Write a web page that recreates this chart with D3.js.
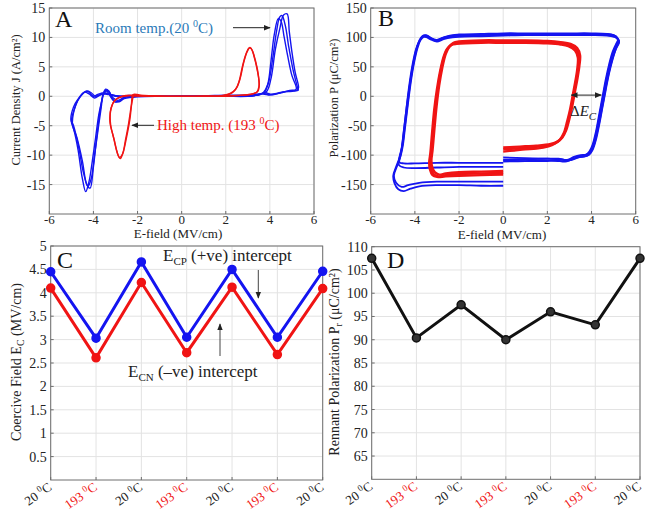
<!DOCTYPE html>
<html>
<head>
<meta charset="UTF-8">
<script src="https://d3js.org/d3.v7.min.js"></script>
<style>
  html, body { margin:0; padding:0; background:#fff; }
  svg text { font-family: "Liberation Serif", "DejaVu Serif", serif; }
</style>
</head>
<body>
<svg id="fig" width="665" height="513"></svg>
<script>
// ---- panel A : J-E loops (E MV/cm, J A/cm2) ----
var blueJ1 = [[0,0],[1,0.1],[2,0.1],[3,0.1],[3.5,0.3],[3.75,0.7],[3.95,2.5],[4.15,7],[4.3,11],[4.45,13.5],[4.55,13.7],[4.7,12],[4.85,8.5],[5.05,4.5],[5.25,1.5],[5.28,1.0],[5.0,0.9],[4.6,0.7],[4.3,0.4],[4.0,0.2],[3.7,0.5],[3.4,0.2],[3,0],[2,0],[1,0],[0,0],[-1,0],[-2,0],[-2.6,-0.2],[-2.9,-0.7],[-3.1,-0.3],[-3.35,1.0],[-3.5,0.8],[-3.6,-0.5],[-3.75,-3],[-3.9,-7],[-4.05,-11],[-4.2,-14.5],[-4.35,-16.2],[-4.5,-14],[-4.7,-9],[-4.9,-5.5],[-5.0,-4.3],[-4.85,-2],[-4.65,-0.3],[-4.4,0.7],[-4.2,0.4],[-3.95,-0.3],[-3.7,0.2],[-3.4,0.5],[-3.0,0.1],[-2,0],[-1,0],[0,0]];
var blueJ2 = [[0,0.1],[1,0.1],[2,0.2],[3,0.2],[3.5,0.4],[3.85,0.8],[4.05,3],[4.25,8],[4.45,11.5],[4.62,13.8],[4.78,14.0],[4.88,11],[5.0,7.5],[5.15,4],[5.3,1.5],[5.25,1.1],[4.9,1.0],[4.5,0.6],[4.1,0.3],[3.8,0.6],[3.5,0.3],[3,0.05],[2,0],[1,0.05],[0,0],[-1,0.05],[-2,0],[-2.5,0.1],[-2.8,-0.9],[-3.1,-0.6],[-3.3,0.9],[-3.45,1.2],[-3.55,0.5],[-3.7,-2.5],[-3.85,-7],[-4.0,-12],[-4.15,-15.6],[-4.3,-15],[-4.5,-11],[-4.75,-7],[-4.95,-4.8],[-4.8,-1.5],[-4.6,-0.1],[-4.3,0.9],[-4.1,0.6],[-3.9,0],[-3.6,0.4],[-3.3,0.3],[-2.8,0],[-2,0],[-1,0],[0,0.1]];
var blueJ3 = [[0,0],[1,0],[2,0.1],[3,0.1],[3.5,0.2],[3.7,0.6],[3.9,2],[4.05,6],[4.2,10.5],[4.38,13.2],[4.5,12.8],[4.65,10],[4.8,7],[5.0,3.5],[5.2,1.3],[5.1,0.9],[4.7,0.8],[4.3,0.5],[3.9,0.3],[3.6,0.4],[3.3,0.1],[3,0],[2,0],[1,0],[0,0],[-1,0],[-2,-0.1],[-2.6,-0.4],[-3.0,-1.0],[-3.2,-0.2],[-3.4,0.9],[-3.55,0.3],[-3.65,-2],[-3.8,-6],[-3.95,-10],[-4.1,-14],[-4.25,-15.3],[-4.45,-13],[-4.65,-9],[-4.9,-5],[-5.02,-4.0],[-4.9,-1.8],[-4.7,-0.5],[-4.45,0.6],[-4.25,0.8],[-4.0,0],[-3.8,0.3],[-3.5,0.6],[-3.0,0],[-2,0],[-1,0],[0,0]];
var redJ1 = [[0,0],[1,0.05],[1.8,0.1],[2.2,0.5],[2.45,1.2],[2.6,2.5],[2.75,5],[2.9,7],[3.05,8.2],[3.15,8.1],[3.3,6.5],[3.45,4],[3.52,2],[3.45,0.8],[3.2,0.4],[2.8,0.2],[2,0.05],[1,0],[0,0],[-1,0],[-1.8,0.1],[-2.15,0.2],[-2.25,-1],[-2.35,-4],[-2.5,-7],[-2.65,-9.5],[-2.78,-10.6],[-2.9,-9.8],[-3.05,-7.5],[-3.22,-4.8],[-3.22,-2.5],[-3.05,-0.8],[-2.75,-0.1],[-2.4,0.1],[-2,0.05],[-1,0],[0,0]];
var redJ2 = [[0,0],[1,0],[1.9,0.1],[2.3,0.6],[2.5,1.5],[2.65,3],[2.8,5.5],[2.95,7.4],[3.1,8.3],[3.2,7.8],[3.35,6],[3.48,3.5],[3.5,1.6],[3.4,0.7],[3.1,0.3],[2.7,0.2],[2,0],[1,0],[0,0],[-1,0.05],[-1.9,0.2],[-2.2,0.3],[-2.28,-1.5],[-2.4,-4.5],[-2.55,-7.5],[-2.68,-9.8],[-2.82,-10.4],[-2.95,-9.2],[-3.1,-6.8],[-3.25,-4.4],[-3.2,-2],[-3.0,-0.6],[-2.7,0],[-2.3,0.2],[-2,0.1],[-1,0],[0,0]];

// ---- panel B : P-E loops (E MV/cm, P uC/cm2) ----
var blueP1 = [[0,-152],[-1,-152],[-2,-151],[-3,-151],[-3.8,-153],[-4.2,-157],[-4.5,-161],[-4.75,-158],[-4.92,-148],[-4.98,-135],[-4.85,-120],[-4.7,-105],[-4.6,-90],[-4.5,-60],[-4.38,-20],[-4.25,20],[-4.1,55],[-3.95,80],[-3.82,92],[-3.65,102],[-3.5,104],[-3.3,100],[-3.05,95],[-2.8,98],[-2.4,102],[-2,103],[-1,104],[0,105],[1,105],[2,105],[3,105],[4,106],[4.6,106],[5.0,104],[5.2,97],[5.1,88],[4.95,75],[4.8,55],[4.65,30],[4.5,0],[4.35,-30],[4.2,-60],[4.05,-82],[3.9,-94],[3.75,-99],[3.5,-100],[3.2,-103],[2.9,-108],[2.5,-106],[2,-106],[1,-107],[0,-108]];
var blueP2 = [[0,-145],[-1,-145],[-2,-145],[-3,-145],[-3.8,-147],[-4.3,-151],[-4.6,-154],[-4.85,-147],[-4.95,-135],[-4.8,-118],[-4.65,-102],[-4.55,-85],[-4.45,-55],[-4.32,-15],[-4.18,25],[-4.03,58],[-3.88,82],[-3.75,95],[-3.6,101],[-3.45,100],[-3.25,96],[-3.0,93],[-2.7,97],[-2.3,100],[-2,101],[-1,102],[0,103],[1,104],[2,104],[3,104],[4,104],[4.7,103],[5.1,100],[5.25,94],[5.15,85],[5.0,70],[4.85,50],[4.7,25],[4.55,-5],[4.4,-35],[4.25,-62],[4.1,-84],[3.95,-96],[3.8,-101],[3.5,-103],[3.1,-107],[2.8,-111],[2.4,-109],[2,-110],[1,-110],[0,-111]];
var blueP3 = [[0,-113],[-1,-113],[-2,-113],[-3,-113],[-4,-114],[-4.5,-114],[-4.7,-112],[-4.65,-100],[-4.55,-80],[-4.45,-50],[-4.32,-10],[-4.2,25],[-4.05,58],[-3.9,83],[-3.78,96],[-3.62,103],[-3.45,103],[-3.25,98],[-3.0,96],[-2.7,100],[-2.3,104],[-2,105],[-1,106],[0,107],[1,107],[2,107],[3,107],[4,107],[4.7,106],[5.1,102],[5.2,94],[5.05,82],[4.9,65],[4.75,42],[4.6,15],[4.45,-15],[4.3,-45],[4.15,-72],[4.0,-90],[3.85,-98],[3.6,-101],[3.3,-104],[3.0,-109],[2.6,-107],[2,-106],[1,-105],[0,-104]];
var blueP4 = [[0,-120],[-1,-120],[-2,-120],[-3,-121],[-4,-122],[-4.5,-121],[-4.72,-117],[-4.7,-104],[-4.6,-88],[-4.5,-58],[-4.37,-18],[-4.23,20],[-4.08,55],[-3.93,80],[-3.8,93],[-3.65,101],[-3.5,102],[-3.3,99],[-3.05,94],[-2.75,99],[-2.35,102],[-2,103],[-1,104],[0,104],[1,105],[2,105],[3,105],[4,105],[4.8,104],[5.15,99],[5.25,92],[5.1,80],[4.95,62],[4.8,40],[4.65,12],[4.5,-18],[4.35,-48],[4.2,-74],[4.05,-91],[3.9,-99],[3.7,-102],[3.4,-104],[3.1,-108],[2.7,-110],[2,-109],[1,-108],[0,-109]];
var redP1 = [[0,-130],[-1,-131],[-2,-132],[-2.6,-134],[-2.95,-136],[-3.15,-132],[-3.28,-122],[-3.3,-110],[-3.26,-95],[-3.18,-60],[-3.08,-20],[-2.95,15],[-2.82,45],[-2.65,70],[-2.5,82],[-2.3,89],[-2.0,91],[-1,93],[0,93],[1,93],[2,92],[2.6,90],[3.0,87],[3.3,80],[3.42,68],[3.4,50],[3.32,30],[3.2,5],[3.08,-20],[2.95,-40],[2.8,-60],[2.62,-72],[2.4,-79],[2.1,-83],[1.5,-86],[1,-87],[0.5,-89],[0,-90]];
var redP2 = [[0,-127],[-1,-128],[-2,-129],[-2.6,-131],[-2.9,-133],[-3.1,-129],[-3.22,-120],[-3.25,-108],[-3.2,-92],[-3.12,-58],[-3.02,-18],[-2.9,18],[-2.76,48],[-2.6,72],[-2.44,84],[-2.25,91],[-2.0,93],[-1,95],[0,95],[1,95],[2,94],[2.6,92],[3.05,89],[3.35,82],[3.48,70],[3.45,52],[3.37,32],[3.25,8],[3.12,-18],[3.0,-38],[2.85,-58],[2.68,-70],[2.45,-77],[2.15,-81],[1.5,-84],[1,-85],[0.5,-86],[0,-87]];
var redP3 = [[0,-133],[-1,-134],[-2,-135],[-2.6,-136],[-3.0,-137],[-3.2,-134],[-3.32,-124],[-3.35,-112],[-3.3,-97],[-3.22,-62],[-3.12,-22],[-3.0,12],[-2.86,42],[-2.7,67],[-2.55,80],[-2.35,87],[-2.1,89],[-1,91],[0,91],[1,91],[2,90],[2.6,88],[2.95,85],[3.25,78],[3.38,66],[3.36,48],[3.28,28],[3.15,2],[3.03,-22],[2.9,-42],[2.75,-62],[2.56,-74],[2.35,-80],[2.05,-85],[1.5,-89],[1,-90],[0.5,-92],[0,-94]];

// ---- panels C and D ----
var cycles = ["20", "193", "20", "193", "20", "193", "20"];
var ecp = [4.45, 3.03, 4.66, 3.05, 4.50, 3.05, 4.46];
var ecn = [4.10, 2.61, 4.22, 2.72, 4.12, 2.68, 4.09];
var pr  = [107.5, 90.4, 97.5, 90.0, 96.0, 93.2, 107.5];

var eTicks = [-6, -4, -2, 0, 2, 4, 6];
var jTicks = [-15, -10, -5, 0, 5, 10, 15];
var pTicks = [-150, -100, -50, 0, 50, 100, 150];
var ecTicks = [0.5, 1, 1.5, 2, 2.5, 3, 3.5, 4, 4.5, 5];
var prTicks = [65, 70, 75, 80, 85, 90, 95, 100, 105, 110];

var BLUE = "#1414f0", RED = "#f01414";
var svg = d3.select("#fig");

svg.append("defs").append("marker")
  .attr("id", "ah").attr("viewBox", "0 0 10 10").attr("refX", 9).attr("refY", 5)
  .attr("markerWidth", 7).attr("markerHeight", 7).attr("orient", "auto-start-reverse")
  .append("path").attr("d", "M0,1 L10,5 L0,9 z").attr("fill", "#222");

// draws grid, frame, inward ticks and numeric tick labels
function frame(x, y, xt, yt, xLabels) {
  var g = svg.append("g");
  var x0 = x.range()[0], x1 = x.range()[x.range().length - 1];
  var y0 = y.range()[0], y1 = y.range()[1];
  var xs = xt.map(function(d) { return x(d); });
  g.selectAll(".gx").data(xs).enter().append("line")
    .attr("x1", function(d) { return d; }).attr("x2", function(d) { return d; })
    .attr("y1", y0).attr("y2", y1).attr("stroke", "#e3e3e3");
  g.selectAll(".gy").data(yt).enter().append("line")
    .attr("x1", x0).attr("x2", x1)
    .attr("y1", function(d) { return y(d); }).attr("y2", function(d) { return y(d); })
    .attr("stroke", "#e3e3e3");
  g.append("rect").attr("x", x0).attr("y", y1).attr("width", x1 - x0).attr("height", y0 - y1)
    .attr("fill", "none").attr("stroke", "#6e6e6e").attr("stroke-width", 1);
  g.selectAll(".tx").data(xs).enter().append("line")
    .attr("x1", function(d) { return d; }).attr("x2", function(d) { return d; })
    .attr("y1", y0).attr("y2", y0 - 3).attr("stroke", "#6e6e6e");
  g.selectAll(".ty").data(yt).enter().append("line")
    .attr("x1", x0).attr("x2", x0 + 3)
    .attr("y1", function(d) { return y(d); }).attr("y2", function(d) { return y(d); })
    .attr("stroke", "#6e6e6e");
  g.selectAll(".ly").data(yt).enter().append("text")
    .attr("x", x0 - 4).attr("y", function(d) { return y(d) + 5; })
    .attr("text-anchor", "end").attr("font-size", 14).attr("fill", "#222")
    .text(function(d) { return d; });
  if (xLabels) {
    g.selectAll(".lx").data(xt).enter().append("text")
      .attr("x", function(d) { return x(d); }).attr("y", y0 + 10)
      .attr("text-anchor", "middle").attr("font-size", 13).attr("fill", "#222")
      .text(function(d) { return d; });
  }
  return g;
}

function ylabel(x, y, fs, build) {
  var t = svg.append("text").attr("transform", "translate(" + x + "," + y + ") rotate(-90)")
    .attr("text-anchor", "middle").attr("font-size", fs).attr("fill", "#222");
  build(t);
}

function letter(x, y, s) {
  svg.append("text").attr("x", x).attr("y", y).attr("font-size", 24).attr("fill", "#111").text(s);
}

// ===== Panel A =====
var xA = d3.scaleLinear().domain([-6, 6]).range([49.3, 314]);
var yA = d3.scaleLinear().domain([-20, 15]).range([214, 8]);
frame(xA, yA, eTicks, jTicks, true);
var lineA = d3.line().x(function(d) { return xA(d[0]); }).y(function(d) { return yA(d[1]); }).curve(d3.curveCatmullRom);
[blueJ1, blueJ2, blueJ3].forEach(function(s) {
  svg.append("path").datum(s).attr("d", lineA).attr("fill", "none").attr("stroke", BLUE).attr("stroke-width", 1.4);
});
[redJ1, redJ2].forEach(function(s) {
  svg.append("path").datum(s).attr("d", lineA).attr("fill", "none").attr("stroke", RED).attr("stroke-width", 1.4);
});
ylabel(20, 100, 12.5, function(t) { t.text("Current Density J (A/cm²)"); });
svg.append("text").attr("x", 178).attr("y", 238).attr("text-anchor", "middle").attr("font-size", 13).attr("fill", "#222").text("E-field (MV/cm)");
letter(55, 27, "A");
var rt = svg.append("text").attr("x", 95).attr("y", 33).attr("font-size", 15).attr("fill", "#2a7ab8");
rt.append("tspan").text("Room temp.(20 ");
rt.append("tspan").attr("font-size", 10).attr("dy", -6).text("0");
rt.append("tspan").attr("dy", 6).text("C)");
svg.append("line").attr("x1", 233).attr("y1", 27.7).attr("x2", 270).attr("y2", 27.7)
  .attr("stroke", "#222").attr("stroke-width", 1).attr("marker-end", "url(#ah)");
var ht = svg.append("text").attr("x", 157).attr("y", 130).attr("font-size", 15).attr("fill", RED);
ht.append("tspan").text("High temp. (193 ");
ht.append("tspan").attr("font-size", 10).attr("dy", -6).text("0");
ht.append("tspan").attr("dy", 6).text("C)");
svg.append("line").attr("x1", 154).attr("y1", 125.3).attr("x2", 132).attr("y2", 125.3)
  .attr("stroke", "#222").attr("stroke-width", 1).attr("marker-end", "url(#ah)");

// ===== Panel B =====
var xB = d3.scaleLinear().domain([-6, 6]).range([370.7, 635.7]);
var yB = d3.scaleLinear().domain([-200, 150]).range([214, 8]);
frame(xB, yB, eTicks, pTicks, true);
var lineB = d3.line().x(function(d) { return xB(d[0]); }).y(function(d) { return yB(d[1]); }).curve(d3.curveCatmullRom);
[blueP1, blueP2, blueP3, blueP4].forEach(function(s) {
  svg.append("path").datum(s).attr("d", lineB).attr("fill", "none").attr("stroke", BLUE).attr("stroke-width", 1.8);
});
[redP1, redP2, redP3].forEach(function(s) {
  svg.append("path").datum(s).attr("d", lineB).attr("fill", "none").attr("stroke", RED).attr("stroke-width", 2.4);
});
ylabel(338, 98, 12.5, function(t) { t.text("Polarization P (μC/cm²)"); });
svg.append("text").attr("x", 502).attr("y", 239).attr("text-anchor", "middle").attr("font-size", 13).attr("fill", "#222").text("E-field (MV/cm)");
letter(378, 26, "B");
svg.append("line").attr("x1", xB(3.08)).attr("y1", yB(2)).attr("x2", xB(4.44)).attr("y2", yB(2))
  .attr("stroke", "#222").attr("stroke-width", 1)
  .attr("marker-start", "url(#ah)").attr("marker-end", "url(#ah)");
var de = svg.append("text").attr("x", 570).attr("y", 116).attr("font-size", 15).attr("fill", "#222");
de.append("tspan").text("Δ");
de.append("tspan").attr("font-style", "italic").text("E");
de.append("tspan").attr("font-style", "italic").attr("font-size", 11).attr("dy", 4).text("C");

// ===== Panel C =====
var xC = d3.scalePoint().domain(d3.range(cycles.length)).range([50.7, 322.7]);
var yC = d3.scaleLinear().domain([0, 5]).range([480, 246]);
frame(xC, yC, d3.range(cycles.length), ecTicks, false);
var lineC = d3.line().x(function(d, i) { return xC(i); }).y(function(d) { return yC(d); });
[[ecp, BLUE], [ecn, RED]].forEach(function(p) {
  svg.append("path").datum(p[0]).attr("d", lineC).attr("fill", "none").attr("stroke", p[1]).attr("stroke-width", 3);
  svg.selectAll(null).data(p[0]).enter().append("circle")
    .attr("cx", function(d, i) { return xC(i); }).attr("cy", function(d) { return yC(d); })
    .attr("r", 4).attr("fill", p[1]).attr("stroke", p[1]).attr("stroke-width", 1.5);
});
ylabel(21, 362, 14, function(t) {
  t.append("tspan").text("Coercive Field E");
  t.append("tspan").attr("font-size", 10).attr("dy", 3).text("C");
  t.append("tspan").attr("dy", -3).text(" (MV/cm)");
});
letter(57, 268, "C");
var cp = svg.append("text").attr("x", 163).attr("y", 261).attr("font-size", 17).attr("fill", "#222");
cp.append("tspan").text("E");
cp.append("tspan").attr("font-size", 11).attr("dy", 4).text("CP");
cp.append("tspan").attr("dy", -4).text(" (+ve) intercept");
var cn = svg.append("text").attr("x", 128).attr("y", 377).attr("font-size", 17).attr("fill", "#222");
cn.append("tspan").text("E");
cn.append("tspan").attr("font-size", 11).attr("dy", 4).text("CN");
cn.append("tspan").attr("dy", -4).text(" (–ve) intercept");
svg.append("line").attr("x1", 258.3).attr("y1", 270).attr("x2", 258.3).attr("y2", 298)
  .attr("stroke", "#444").attr("stroke-width", 1).attr("marker-end", "url(#ah)");
svg.append("line").attr("x1", 220).attr("y1", 356).attr("x2", 220).attr("y2", 324)
  .attr("stroke", "#444").attr("stroke-width", 1).attr("marker-end", "url(#ah)");

// ===== Panel D =====
var xD = d3.scalePoint().domain(d3.range(cycles.length)).range([371.7, 640]);
var yD = d3.scaleLinear().domain([60, 110]).range([479.3, 246.7]);
frame(xD, yD, d3.range(cycles.length), prTicks, false);
var lineD = d3.line().x(function(d, i) { return xD(i); }).y(function(d) { return yD(d); });
svg.append("path").datum(pr).attr("d", lineD).attr("fill", "none").attr("stroke", "#111").attr("stroke-width", 3);
svg.selectAll(null).data(pr).enter().append("circle")
  .attr("cx", function(d, i) { return xD(i); }).attr("cy", function(d) { return yD(d); })
  .attr("r", 4).attr("fill", "#333").attr("stroke", "#111").attr("stroke-width", 1.5);
ylabel(339, 362, 14, function(t) {
  t.append("tspan").text("Rennant Polarization P");
  t.append("tspan").attr("font-size", 10).attr("dy", 3).text("r");
  t.append("tspan").attr("dy", -3).text(" (μC/cm²)");
});
letter(387, 268, "D");

// rotated temperature labels under C and D
function catLabels(x, yb) {
  cycles.forEach(function(c, i) {
    var t = svg.append("text")
      .attr("transform", "translate(" + (x(i) + 2) + "," + (yb + 9) + ") rotate(-35)")
      .attr("text-anchor", "end").attr("font-size", 13)
      .attr("fill", c === "193" ? RED : "#222");
    t.append("tspan").text(c + " ");
    t.append("tspan").attr("font-size", 9).attr("dy", -5).text("0");
    t.append("tspan").attr("dy", 5).text("C");
  });
}
catLabels(xC, 480);
catLabels(xD, 479.3);
</script>
</body>
</html>
